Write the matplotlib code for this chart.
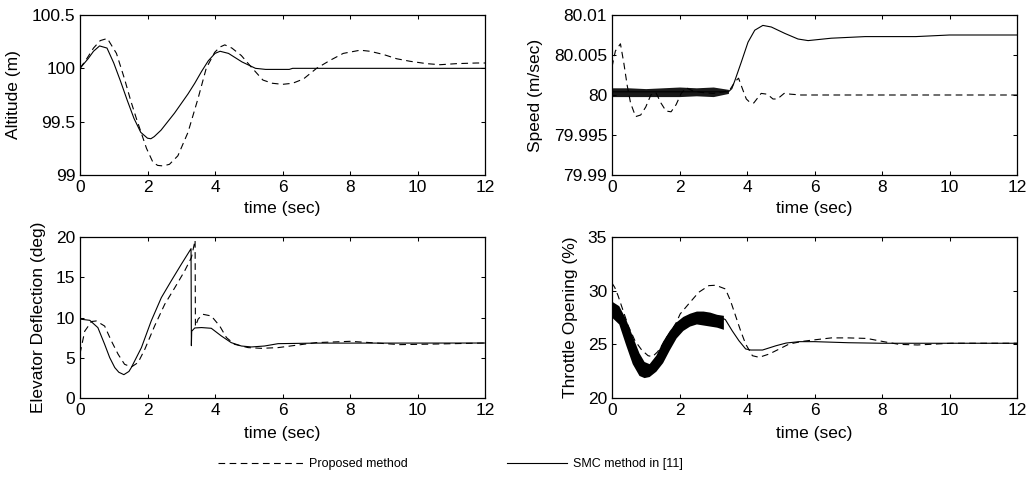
import matplotlib
matplotlib.use("Agg")
import matplotlib.pyplot as plt
from matplotlib.ticker import FuncFormatter

# ---------------- data ----------------
alt_t_smc = [0, 0.24, 0.4, 0.58, 0.8, 1.0, 1.2, 1.4, 1.6, 1.8, 2.0, 2.1, 2.2, 2.4, 2.6, 2.8, 3.0,
             3.2, 3.4, 3.6, 3.8, 4.0, 4.15, 4.4, 4.6, 4.8, 5.0, 5.2, 5.5, 6.2, 6.3, 12]
alt_smc = [100.0, 100.09, 100.16, 100.21, 100.19, 100.05, 99.88, 99.7, 99.53, 99.4, 99.345, 99.34,
           99.36, 99.42, 99.5, 99.58, 99.67, 99.76, 99.86, 99.97, 100.07, 100.14, 100.16, 100.14,
           100.1, 100.06, 100.03, 100.0, 99.99, 99.99, 100.0, 100.0]
alt_t_prop = [0, 0.2, 0.4, 0.6, 0.81, 1.08, 1.32, 1.5, 1.67, 1.82, 1.97, 2.16, 2.3, 2.46, 2.65, 2.9,
              3.2, 3.5, 3.74, 3.99, 4.15, 4.29, 4.5, 4.78, 5.08, 5.42, 5.7, 6.0, 6.3, 6.62, 7.01,
              7.41, 7.8, 8.3, 8.59, 8.99, 9.38, 9.78, 10.27, 10.67, 11.16, 11.75, 12]
alt_prop = [100.0, 100.09, 100.19, 100.26, 100.28, 100.14, 99.9, 99.7, 99.53, 99.39, 99.25, 99.12,
            99.09, 99.085, 99.1, 99.18, 99.4, 99.72, 100.0, 100.15, 100.2, 100.22, 100.19, 100.12,
            100.01, 99.89, 99.86, 99.85, 99.86, 99.9, 100.0, 100.075, 100.14, 100.17, 100.16,
            100.13, 100.09, 100.066, 100.044, 100.034, 100.044, 100.05, 100.05]

spd_t_smc = [0, 3.45, 3.55, 3.64, 3.83, 4.03, 4.23, 4.47, 4.72, 5.12, 5.51, 5.81, 6.5, 7.5, 9.0, 10.0, 12]
spd_smc = [80.0004, 80.0004, 80.0008, 80.0018, 80.0041, 80.0066, 80.0081, 80.0087, 80.0085,
           80.0077, 80.007, 80.0068, 80.0071, 80.0073, 80.0073, 80.0075, 80.0075]
spd_band_t = [0, 0.5, 1.0, 1.5, 2.0, 2.5, 3.0, 3.45]
spd_band_hi = [80.0009, 80.0009, 80.0008, 80.0009, 80.0010, 80.0009, 80.0010, 80.0007]
spd_band_lo = [79.9998, 79.9998, 79.9998, 79.9998, 79.9998, 79.9999, 79.9998, 80.0002]
spd_t_prop = [0, 0.1, 0.25, 0.35, 0.45, 0.55, 0.7, 0.85, 1.0, 1.15, 1.3, 1.45, 1.6, 1.75, 1.9, 2.05,
              2.2, 2.4, 2.7, 3.0, 3.3, 3.5, 3.65, 3.75, 3.88, 3.98, 4.08, 4.2, 4.42, 4.6, 4.77,
              4.9, 5.1, 5.3, 5.6, 12]
spd_prop = [80.0035, 80.0055, 80.0064, 80.004, 80.0012, 79.999, 79.9973, 79.9975, 79.9985, 80.0,
            80.0003, 79.999, 79.998, 79.9979, 79.9988, 80.0002, 80.0009, 80.0005, 80.0003,
            80.0002, 80.0004, 80.0007, 80.0017, 80.0021, 80.0006, 79.9995, 79.9991, 79.999,
            80.0002, 80.0001, 79.9995, 79.9995, 80.0002, 80.0001, 80.0, 80.0]

elv_t_smc = [0, 0.29, 0.53, 0.73, 0.88, 1.03, 1.15, 1.3, 1.45, 1.52, 1.82, 2.11, 2.41, 2.7, 3.0,
             3.29, 3.30, 3.31, 3.4, 3.6, 3.89, 4.19, 4.48, 4.78, 5.08, 5.47, 5.87, 7.0, 9.0, 12]
elv_smc = [9.8, 9.65, 8.74, 6.67, 5.02, 3.78, 3.2, 2.9, 3.3, 3.78, 6.26, 9.57, 12.47, 14.53, 16.6,
           18.55, 6.5, 8.3, 8.7, 8.75, 8.66, 7.7, 6.88, 6.46, 6.34, 6.46, 6.75, 6.82, 6.82, 6.83]
elv_t_prop = [0, 0.14, 0.34, 0.48, 0.73, 0.93, 1.13, 1.32, 1.52, 1.72, 1.92, 2.21, 2.51, 2.81, 3.1,
              3.3, 3.41, 3.42, 3.5, 3.64, 3.89, 4.14, 4.34, 4.58, 4.98, 5.37, 5.87, 6.0, 7.0, 8.0,
              8.6, 9.48, 10.47, 12]
elv_prop = [5.5, 8.3, 9.5, 9.57, 8.94, 7.08, 5.43, 4.19, 3.85, 4.4, 6.05, 8.94, 11.64, 13.71, 15.78,
            17.44, 19.6, 8.9, 9.8, 10.4, 10.19, 8.94, 7.5, 6.67, 6.26, 6.17, 6.26, 6.33, 6.88,
            7.04, 6.88, 6.63, 6.7, 6.83]

thr_t_smc = [0, 0.2, 0.4, 0.6, 0.8, 0.98, 1.17, 1.37, 1.62, 1.92, 2.2, 2.57, 2.9, 3.26, 3.3, 3.36,
             3.56, 3.76, 3.96, 4.11, 4.46, 4.86, 5.16, 5.55, 6.0, 7.0, 8.0, 12]
thr_smc = [28.2, 27.6, 25.8, 24.3, 23.0, 22.4, 22.86, 23.94, 25.66, 26.9, 27.3, 27.5, 27.3, 27.1,
           27.4, 27.3, 26.27, 25.34, 24.57, 24.47, 24.47, 24.87, 25.12, 25.25, 25.25, 25.15, 25.1, 25.1]
thr_band_t = [0, 0.2, 0.4, 0.6, 0.8, 0.95, 1.1, 1.3, 1.5, 1.7, 1.9, 2.1, 2.3, 2.5, 2.7, 2.9, 3.1, 3.3]
thr_band_hi = [29.0, 28.6, 27.4, 25.8, 24.2, 23.4, 23.2, 24.0, 25.3, 26.3, 27.1, 27.6, 27.9, 28.1,
               28.1, 28.0, 27.8, 27.7]
thr_band_lo = [27.5, 26.9, 25.0, 23.2, 22.1, 21.9, 22.0, 22.5, 23.3, 24.5, 25.6, 26.3, 26.7, 26.9,
               26.8, 26.7, 26.6, 26.4]
thr_t_prop = [0, 0.08, 0.18, 0.33, 0.48, 0.68, 0.88, 1.07, 1.2, 1.35, 1.5, 1.7, 1.9, 2.02, 2.27,
              2.57, 2.87, 3.05, 3.16, 3.36, 3.51, 3.66, 3.81, 3.96, 4.16, 4.36, 4.66, 4.96, 5.25,
              5.65, 5.95, 6.5, 7.0, 7.55, 8.05, 8.5, 9.05, 10.05, 12]
thr_prop = [30.7, 30.31, 29.53, 28.13, 26.74, 25.34, 24.47, 23.94, 23.85, 24.3, 25.0, 26.0, 27.0,
            27.83, 28.76, 29.85, 30.47, 30.5, 30.4, 30.16, 29.07, 27.67, 26.27, 25.03, 23.94,
            23.79, 24.1, 24.57, 25.03, 25.28, 25.4, 25.6, 25.6, 25.55, 25.25, 25.0, 24.94, 25.1, 25.1]

x_ticks = [0, 2, 4, 6, 8, 10, 12]
alt_ticks = [99, 99.5, 100, 100.5]
spd_ticks = [79.99, 79.995, 80, 80.005, 80.01]
elv_ticks = [0, 5, 10, 15, 20]
thr_ticks = [20, 25, 30, 35]

labels = ["Proposed method", "SMC method in [11]"]

# ---------------- style ----------------
plt.rcParams['font.family'] = ['Liberation Sans', 'DejaVu Sans']
FS = 12.5
LW = 0.8
DASH = [6, 4]

fig = plt.figure(figsize=(10.35, 4.8), dpi=100)
W, H = 1035.0, 480.0


def make_ax(l, t, r, b):
    return fig.add_axes([l / W, 1 - b / H, (r - l) / W, (b - t) / H])


ax_alt = make_ax(80, 15, 485, 175)
ax_spd = make_ax(612, 15, 1017, 175)
ax_elv = make_ax(80, 237, 485, 398)
ax_thr = make_ax(612, 237, 1017, 398)

fmt = FuncFormatter(lambda v, p: f"{v:g}")


def style(ax, yticks, ylabel, ylx, xly):
    ax.set_xlim(0, 12)
    ax.set_ylim(yticks[0], yticks[-1])
    ax.set_xticks(x_ticks)
    ax.set_yticks(yticks)
    ax.yaxis.set_major_formatter(fmt)
    ax.xaxis.set_major_formatter(fmt)
    ax.tick_params(direction='in', top=True, right=True, length=3, width=0.75,
                   labelsize=FS, pad=3.5)
    for s in ax.spines.values():
        s.set_linewidth(0.9)
    ax.set_xlabel("time (sec)", fontsize=FS)
    ax.set_ylabel(ylabel, fontsize=FS)
    ax.yaxis.set_label_coords(ylx, 0.5)
    ax.xaxis.set_label_coords(0.5, xly)


# Altitude
lp, = ax_alt.plot(alt_t_prop, alt_prop, color='k', lw=LW, dashes=DASH)
ls, = ax_alt.plot(alt_t_smc, alt_smc, color='k', lw=LW)
style(ax_alt, alt_ticks, "Altitude (m)", -0.146, -0.165)

# Speed
ax_spd.plot(spd_t_prop, spd_prop, color='k', lw=LW, dashes=DASH)
ax_spd.fill_between(spd_band_t, spd_band_lo, spd_band_hi, color='k', lw=0, alpha=0.9)
ax_spd.plot(spd_t_smc, spd_smc, color='k', lw=LW)
style(ax_spd, spd_ticks, "Speed (m/sec)", -0.170, -0.165)

# Elevator
ax_elv.plot(elv_t_prop, elv_prop, color='k', lw=LW, dashes=DASH)
ax_elv.plot(elv_t_smc, elv_smc, color='k', lw=LW)
style(ax_elv, elv_ticks, "Elevator Deflection (deg)", -0.084, -0.172)

# Throttle
ax_thr.plot(thr_t_prop, thr_prop, color='k', lw=LW, dashes=DASH)
ax_thr.fill_between(thr_band_t, thr_band_lo, thr_band_hi, color='k', lw=0)
ax_thr.plot(thr_t_smc, thr_smc, color='k', lw=LW)
style(ax_thr, thr_ticks, "Throttle Opening (%)", -0.084, -0.172)

# Legends
LFS = 9
fig.legend(handles=[lp], labels=[labels[0]], loc='center left',
           bbox_to_anchor=(218 / W, 1 - 464 / H), frameon=False, fontsize=LFS,
           handlelength=6.8, handletextpad=0.45, borderpad=0, borderaxespad=0)
fig.legend(handles=[ls], labels=[labels[1]], loc='center left',
           bbox_to_anchor=(507 / W, 1 - 464 / H), frameon=False, fontsize=LFS,
           handlelength=4.8, handletextpad=0.45, borderpad=0, borderaxespad=0)

fig.savefig("out.png", dpi=100)
